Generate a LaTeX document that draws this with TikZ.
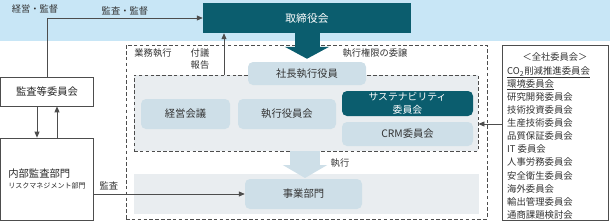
\documentclass[tikz,border=0pt]{standalone}
\usepackage{fontspec}
\setmainfont{Noto Sans CJK JP}
\usetikzlibrary{arrows.meta, calc}
\definecolor{cteal}{HTML}{0B5D6E}
\definecolor{cband}{HTML}{C8E6F6}
\definecolor{clight}{HTML}{CEDFE8}
\definecolor{cpale}{HTML}{E9EDF0}
\definecolor{cline}{HTML}{4D4D4D}

\begin{document}
\begin{tikzpicture}[x=0.03cm, y=-0.03cm,
    sz/.style 2 args={minimum width=#1*0.03cm, minimum height=#2*0.03cm},
    box/.style={rectangle, draw=cline, line width=0.6pt, fill=white, inner sep=0pt, text=black!85, font=\fontsize{8.8}{11}\selectfont},
    darkbox/.style={rectangle, fill=cteal, text=white, inner sep=0pt, align=center, font=\fontsize{8.8}{12}\selectfont},
    lightbox/.style={rectangle, rounded corners=1.5mm, fill=clight, text=black!80, inner sep=0pt, font=\fontsize{8.8}{11}\selectfont},
    dashzone/.style={rectangle, draw=cline, dash pattern=on 3pt off 2pt, line width=0.7pt, inner sep=0pt},
    arrow/.style={-{Triangle[length=1.8mm, width=1.5mm]}, line width=0.7pt, draw=cline},
    note/.style={font=\fontsize{7.9}{10}\selectfont, text=black!80, inner sep=0pt, align=center}
]
\useasboundingbox (0,0) rectangle (610,221);
\node[rectangle, fill=cband, sz={610}{41}, inner sep=0pt] (band) at (305,20.5) {};
\node[darkbox, sz={208}{30}, font=\fontsize{9.2}{11}\selectfont] (board) at (307,18) {取締役会};
\node[note] (govern) at (35,9) {経営・監督};

\node[box, sz={93}{29}] (audit) at (47,91.5) {監査等委員会};
\node[box, sz={93}{82}, align=left] (internal) at (47,179) {内部監査部門\\[-1pt]{\fontsize{6}{8}\selectfont リスクマネジメント部門}};

\node[dashzone, sz={361}{174}] (outer) at (306.5,132) {};
\node[dashzone, fill=cpale, sz={344}{76}] (inner) at (306,113) {};
\node[rectangle, fill=cpale, sz={345}{40}, inner sep=0pt] (bizband) at (306.5,194) {};

\node[lightbox, sz={118}{23}] (ceo) at (307,73.5) {社長執行役員};
\node[lightbox, sz={89}{30}] (mgmt) at (185.5,114) {経営会議};
\node[lightbox, sz={98}{30}] (officers) at (287,114) {執行役員会};
\node[darkbox, rounded corners=1.5mm, sz={131}{25}, font=\fontsize{8.4}{11}\selectfont] (sustain) at (407.5,103.5) {サステナビリティ\\委員会};
\node[lightbox, sz={131}{24}] (crm) at (407.5,134) {CRM委員会};

\node[note] (exec) at (153,53) {業務執行};
\node[note] (report) at (200,59) {付議\\報告};
\node[note] (delegate) at (375,53) {執行権限の委譲};
\node[note] (execute) at (340,163) {執行};

\draw[cteal, line width=0.75cm, -{Triangle[length=0.36cm, width=1.32cm]}, shorten >=0.09cm] (board.south) -- (ceo.north);
\draw[clight, line width=0.9cm, -{Triangle[length=0.39cm, width=1.32cm]}, shorten >=0.03cm] (inner.south -| 305,0) -- (305,179);
\node[lightbox, sz={117}{30}] (biz) at (303.5,194) {事業部門};

\node[box, sz={106}{175}] (committees) at (555,132.5) {};
\node[note] (allco) at (555,57) {＜全社委員会＞};
\node[note, align=left, anchor=north west, font=\fontsize{8}{11.2}\selectfont] (members) at (507,66) {%
\underline{CO\textsubscript{2}削減推進委員会}\\
\underline{環境委員会}\\
研究開発委員会\\
技術投資委員会\\
生産技術委員会\\
品質保証委員会\\
IT 委員会\\
人事労務委員会\\
安全衛生委員会\\
海外委員会\\
輸出管理委員会\\
通商課題検討会};

\coordinate (rep) at (224,75);
\coordinate (cw) at ([yshift=0.255cm]committees.west);
\draw[arrow] (audit.north) |- node[note, above=2pt, pos=0.75] {監査・監督} (board.west);
\draw[arrow] (rep) -- (rep |- board.south);
\draw[arrow] ([xshift=-0.3cm]audit.south) -- ([xshift=-0.3cm]internal.north);
\draw[arrow] ([xshift=0.3cm]internal.north) -- ([xshift=0.3cm]audit.south);
\draw[arrow] (internal.east |- biz.west) -- node[note, above=3pt, pos=0.1] {監査} (biz.west);
\draw[arrow] (cw) -- (cw -| inner.east);
\end{tikzpicture}
\end{document}
